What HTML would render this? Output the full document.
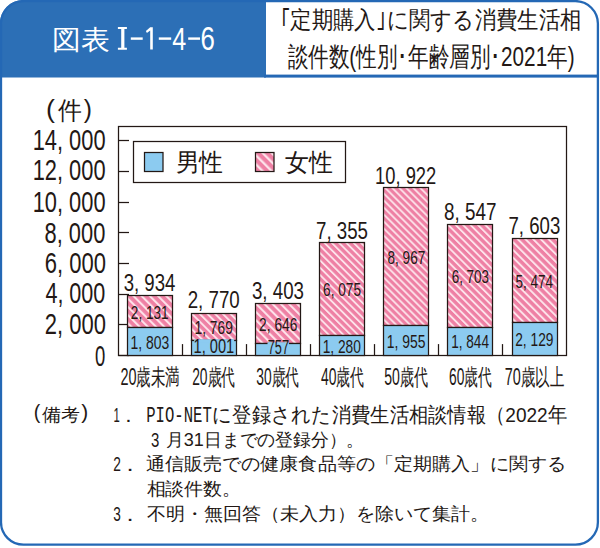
<!DOCTYPE html>
<html><head><meta charset="utf-8"><style>
html,body{margin:0;padding:0;background:#ffffff;width:600px;height:548px;overflow:hidden}
svg text{font-family:"Liberation Sans",sans-serif}
</style></head><body><svg width="600" height="548" viewBox="0 0 600 548" style="display:block"><defs><pattern id="st0" patternUnits="userSpaceOnUse" width="5.798" height="10" patternTransform="rotate(-45)"><rect width="5.798" height="10" fill="#ee80a4"/><rect x="0" y="0" width="2.087" height="10" fill="#fde3ea"/></pattern><pattern id="st1" patternUnits="userSpaceOnUse" width="5.445" height="10" patternTransform="rotate(-45)"><rect width="5.445" height="10" fill="#ee80a4"/><rect x="0" y="0" width="1.960" height="10" fill="#fde3ea"/></pattern><pattern id="st2" patternUnits="userSpaceOnUse" width="5.798" height="10" patternTransform="rotate(-45)"><rect width="5.798" height="10" fill="#ee80a4"/><rect x="0" y="0" width="2.087" height="10" fill="#fde3ea"/></pattern><pattern id="st3" patternUnits="userSpaceOnUse" width="5.162" height="10" patternTransform="rotate(-45)"><rect width="5.162" height="10" fill="#ee80a4"/><rect x="0" y="0" width="1.858" height="10" fill="#fde3ea"/></pattern><pattern id="st4" patternUnits="userSpaceOnUse" width="4.950" height="10" patternTransform="rotate(-45)"><rect width="4.950" height="10" fill="#ee80a4"/><rect x="0" y="0" width="1.782" height="10" fill="#fde3ea"/></pattern><pattern id="st5" patternUnits="userSpaceOnUse" width="5.233" height="10" patternTransform="rotate(-45)"><rect width="5.233" height="10" fill="#ee80a4"/><rect x="0" y="0" width="1.884" height="10" fill="#fde3ea"/></pattern><pattern id="st6" patternUnits="userSpaceOnUse" width="5.445" height="10" patternTransform="rotate(-45)"><rect width="5.445" height="10" fill="#ee80a4"/><rect x="0" y="0" width="1.960" height="10" fill="#fde3ea"/></pattern><pattern id="st7" patternUnits="userSpaceOnUse" width="6.364" height="10" patternTransform="rotate(-45)"><rect width="6.364" height="10" fill="#ee80a4"/><rect x="0" y="0" width="2.291" height="10" fill="#fde3ea"/></pattern></defs><path d="M0,77.6 V23 A23,23 0 0 1 23,0 H266 V77.6 Z" fill="#2c6fb6"/>
<rect x="1" y="1.1" width="596.9" height="543.6" rx="22.5" ry="22.5" fill="none" stroke="#2468b5" stroke-width="2.3"/>
<rect x="264" y="74.6" width="334" height="3" fill="#2468b5"/>
<rect x="130.8" y="37.4" width="11.90" height="2.4" fill="#ffffff"/>
<rect x="158.8" y="37.4" width="12.40" height="2.4" fill="#ffffff"/>
<rect x="188.2" y="37.4" width="11.80" height="2.4" fill="#ffffff"/>
<path d="M117.9,27.1 H126.9 V29.1 H124.4 V47.7 H126.9 V49.8 H117.9 V47.7 H121.2 V29.1 H117.9 Z" fill="#ffffff"/>
<path d="M150.2,27.3 H152.8 V49.5 H150.2 V30.6 L146.9,32.9 L145.9,31.0 Z" fill="#ffffff"/>
<rect x="118.5" y="126.5" width="448.00" height="229.00" fill="none" stroke="#231815" stroke-width="1.25"/>
<line x1="118.5" y1="355.50" x2="129.0" y2="355.50" stroke="#231815" stroke-width="1.25"/>
<line x1="118.5" y1="324.50" x2="129.0" y2="324.50" stroke="#231815" stroke-width="1.25"/>
<line x1="118.5" y1="294.50" x2="129.0" y2="294.50" stroke="#231815" stroke-width="1.25"/>
<line x1="118.5" y1="263.50" x2="129.0" y2="263.50" stroke="#231815" stroke-width="1.25"/>
<line x1="118.5" y1="232.50" x2="129.0" y2="232.50" stroke="#231815" stroke-width="1.25"/>
<line x1="118.5" y1="202.50" x2="129.0" y2="202.50" stroke="#231815" stroke-width="1.25"/>
<line x1="118.5" y1="171.50" x2="129.0" y2="171.50" stroke="#231815" stroke-width="1.25"/>
<line x1="118.5" y1="140.50" x2="129.0" y2="140.50" stroke="#231815" stroke-width="1.25"/>
<rect x="127.50" y="295.50" width="45.00" height="32.00" fill="url(#st0)" stroke="#231815" stroke-width="1.25"/>
<rect x="127.50" y="327.50" width="45.00" height="28.00" fill="#8ccbf0" stroke="#231815" stroke-width="1.25"/>
<rect x="191.50" y="313.50" width="45.00" height="27.00" fill="url(#st1)" stroke="#231815" stroke-width="1.25"/>
<rect x="191.50" y="340.50" width="45.00" height="15.00" fill="#8ccbf0" stroke="#231815" stroke-width="1.25"/>
<rect x="194.13" y="339.30" width="40.00" height="3" fill="#8ccbf0"/>
<line x1="182.50" y1="355.5" x2="182.50" y2="344.1" stroke="#231815" stroke-width="1.25"/>
<rect x="255.50" y="303.50" width="45.00" height="40.00" fill="url(#st2)" stroke="#231815" stroke-width="1.25"/>
<rect x="255.50" y="343.50" width="45.00" height="12.00" fill="#8ccbf0" stroke="#231815" stroke-width="1.25"/>
<rect x="267.51" y="342.30" width="21.40" height="3" fill="#8ccbf0"/>
<line x1="246.50" y1="355.5" x2="246.50" y2="344.1" stroke="#231815" stroke-width="1.25"/>
<rect x="319.50" y="242.50" width="45.00" height="93.00" fill="url(#st3)" stroke="#231815" stroke-width="1.25"/>
<rect x="319.50" y="335.50" width="45.00" height="20.00" fill="#8ccbf0" stroke="#231815" stroke-width="1.25"/>
<line x1="310.50" y1="355.5" x2="310.50" y2="344.1" stroke="#231815" stroke-width="1.25"/>
<rect x="383.50" y="187.50" width="45.00" height="138.00" fill="url(#st4)" stroke="#231815" stroke-width="1.25"/>
<rect x="383.50" y="325.50" width="45.00" height="30.00" fill="#8ccbf0" stroke="#231815" stroke-width="1.25"/>
<line x1="374.50" y1="355.5" x2="374.50" y2="344.1" stroke="#231815" stroke-width="1.25"/>
<rect x="447.50" y="224.50" width="45.00" height="103.00" fill="url(#st5)" stroke="#231815" stroke-width="1.25"/>
<rect x="447.50" y="327.50" width="45.00" height="28.00" fill="#8ccbf0" stroke="#231815" stroke-width="1.25"/>
<line x1="438.50" y1="355.5" x2="438.50" y2="344.1" stroke="#231815" stroke-width="1.25"/>
<rect x="512.50" y="238.50" width="45.00" height="84.00" fill="url(#st6)" stroke="#231815" stroke-width="1.25"/>
<rect x="512.50" y="322.50" width="45.00" height="33.00" fill="#8ccbf0" stroke="#231815" stroke-width="1.25"/>
<line x1="502.50" y1="355.5" x2="502.50" y2="344.1" stroke="#231815" stroke-width="1.25"/>
<rect x="133.5" y="141.5" width="212" height="41" fill="#ffffff" stroke="#231815" stroke-width="1.25"/>
<rect x="144.5" y="152.5" width="18.5" height="19" fill="#8ccbf0" stroke="#231815" stroke-width="1.25"/>
<rect x="255.5" y="152.5" width="18.5" height="19" fill="url(#st7)" stroke="#231815" stroke-width="1.25"/>
<text x="52.268" y="49.224" font-size="26.874" textLength="57.727" lengthAdjust="spacingAndGlyphs" style="font-family:'Liberation Sans',sans-serif" fill="#ffffff">図表</text>
<text x="172.374" y="50.000" font-size="31.970" textLength="13.941" lengthAdjust="spacingAndGlyphs" style="font-family:'Liberation Sans',sans-serif" fill="#ffffff">4</text>
<text x="200.453" y="49.500" font-size="32.696" textLength="14.339" lengthAdjust="spacingAndGlyphs" style="font-family:'Liberation Sans',sans-serif" fill="#ffffff">6</text>
<text x="279.675" y="28.358" font-size="24.300" textLength="301.870" lengthAdjust="spacingAndGlyphs" style="font-family:'Liberation Sans',sans-serif" fill="#231815">｢定期購入｣に関する消費生活相</text>
<text x="287.534" y="66.142" font-size="27.185" textLength="287.118" lengthAdjust="spacingAndGlyphs" style="font-family:'Liberation Sans',sans-serif" fill="#231815">談件数(性別･年齢層別･2021年)</text>
<text x="46.124" y="117.642" font-size="25.340" textLength="8.964" lengthAdjust="spacingAndGlyphs" style="font-family:'Liberation Sans',sans-serif" fill="#231815">(</text>
<text x="57.588" y="118.996" font-size="24.843" textLength="23.835" lengthAdjust="spacingAndGlyphs" style="font-family:'Liberation Sans',sans-serif" fill="#231815">件</text>
<text x="83.798" y="117.642" font-size="25.340" textLength="8.184" lengthAdjust="spacingAndGlyphs" style="font-family:'Liberation Sans',sans-serif" fill="#231815">)</text>
<text x="95.123" y="365.511" font-size="29.270" textLength="10.269" lengthAdjust="spacingAndGlyphs" style="font-family:'Liberation Sans',sans-serif" fill="#231815">0</text>
<text x="44.774" y="334.032" font-size="29.270" textLength="61.134" lengthAdjust="spacingAndGlyphs" style="font-family:'Liberation Sans',sans-serif" fill="#231815">2, 000</text>
<text x="45.397" y="303.489" font-size="29.270" textLength="59.977" lengthAdjust="spacingAndGlyphs" style="font-family:'Liberation Sans',sans-serif" fill="#231815">4, 000</text>
<text x="44.734" y="273.000" font-size="29.270" textLength="61.173" lengthAdjust="spacingAndGlyphs" style="font-family:'Liberation Sans',sans-serif" fill="#231815">6, 000</text>
<text x="44.526" y="242.511" font-size="29.270" textLength="60.812" lengthAdjust="spacingAndGlyphs" style="font-family:'Liberation Sans',sans-serif" fill="#231815">8, 000</text>
<text x="32.677" y="211.968" font-size="29.270" textLength="72.856" lengthAdjust="spacingAndGlyphs" style="font-family:'Liberation Sans',sans-serif" fill="#231815">10, 000</text>
<text x="32.677" y="180.489" font-size="29.270" textLength="72.856" lengthAdjust="spacingAndGlyphs" style="font-family:'Liberation Sans',sans-serif" fill="#231815">12, 000</text>
<text x="32.677" y="149.990" font-size="29.270" textLength="72.856" lengthAdjust="spacingAndGlyphs" style="font-family:'Liberation Sans',sans-serif" fill="#231815">14, 000</text>
<text x="175.600" y="170.509" font-size="25.065" textLength="47.713" lengthAdjust="spacingAndGlyphs" style="font-family:'Liberation Sans',sans-serif" fill="#231815">男性</text>
<text x="285.465" y="170.509" font-size="25.065" textLength="47.753" lengthAdjust="spacingAndGlyphs" style="font-family:'Liberation Sans',sans-serif" fill="#231815">女性</text>
<text x="123.669" y="291.066" font-size="23.611" textLength="51.641" lengthAdjust="spacingAndGlyphs" style="font-family:'Liberation Sans',sans-serif" fill="#231815">3, 934</text>
<text x="130.861" y="318.554" font-size="18.802" textLength="37.701" lengthAdjust="spacingAndGlyphs" style="font-family:'Liberation Sans',sans-serif" fill="#231815">2, 131</text>
<text x="130.449" y="348.544" font-size="18.802" textLength="38.685" lengthAdjust="spacingAndGlyphs" style="font-family:'Liberation Sans',sans-serif" fill="#231815">1, 803</text>
<text x="120.419" y="385.285" font-size="23.072" textLength="59.334" lengthAdjust="spacingAndGlyphs" style="font-family:'Liberation Sans',sans-serif" fill="#231815">20歳未満</text>
<text x="187.701" y="308.403" font-size="23.611" textLength="52.072" lengthAdjust="spacingAndGlyphs" style="font-family:'Liberation Sans',sans-serif" fill="#231815">2, 770</text>
<text x="194.525" y="333.994" font-size="18.802" textLength="38.289" lengthAdjust="spacingAndGlyphs" style="font-family:'Liberation Sans',sans-serif" fill="#231815">1, 769</text>
<text x="193.604" y="353.000" font-size="19.508" textLength="40.664" lengthAdjust="spacingAndGlyphs" style="font-family:'Liberation Sans',sans-serif" fill="#231815">1, 001</text>
<text x="192.158" y="385.285" font-size="23.072" textLength="42.969" lengthAdjust="spacingAndGlyphs" style="font-family:'Liberation Sans',sans-serif" fill="#231815">20歳代</text>
<text x="251.918" y="298.820" font-size="23.611" textLength="52.052" lengthAdjust="spacingAndGlyphs" style="font-family:'Liberation Sans',sans-serif" fill="#231815">3, 403</text>
<text x="259.102" y="331.065" font-size="18.802" textLength="38.234" lengthAdjust="spacingAndGlyphs" style="font-family:'Liberation Sans',sans-serif" fill="#231815">2, 646</text>
<text x="267.746" y="354.000" font-size="19.509" textLength="21.310" lengthAdjust="spacingAndGlyphs" style="font-family:'Liberation Sans',sans-serif" fill="#231815">757</text>
<text x="256.335" y="385.285" font-size="23.072" textLength="42.836" lengthAdjust="spacingAndGlyphs" style="font-family:'Liberation Sans',sans-serif" fill="#231815">30歳代</text>
<text x="315.990" y="238.504" font-size="23.611" textLength="51.970" lengthAdjust="spacingAndGlyphs" style="font-family:'Liberation Sans',sans-serif" fill="#231815">7, 355</text>
<text x="323.080" y="296.398" font-size="18.802" textLength="37.991" lengthAdjust="spacingAndGlyphs" style="font-family:'Liberation Sans',sans-serif" fill="#231815">6, 075</text>
<text x="322.723" y="352.614" font-size="18.802" textLength="38.164" lengthAdjust="spacingAndGlyphs" style="font-family:'Liberation Sans',sans-serif" fill="#231815">1, 280</text>
<text x="320.944" y="385.285" font-size="23.072" textLength="43.220" lengthAdjust="spacingAndGlyphs" style="font-family:'Liberation Sans',sans-serif" fill="#231815">40歳代</text>
<text x="375.061" y="183.737" font-size="23.611" textLength="61.214" lengthAdjust="spacingAndGlyphs" style="font-family:'Liberation Sans',sans-serif" fill="#231815">10, 922</text>
<text x="387.426" y="263.579" font-size="18.802" textLength="37.846" lengthAdjust="spacingAndGlyphs" style="font-family:'Liberation Sans',sans-serif" fill="#231815">8, 967</text>
<text x="386.869" y="347.687" font-size="18.802" textLength="38.607" lengthAdjust="spacingAndGlyphs" style="font-family:'Liberation Sans',sans-serif" fill="#231815">1, 955</text>
<text x="384.279" y="385.285" font-size="23.072" textLength="43.699" lengthAdjust="spacingAndGlyphs" style="font-family:'Liberation Sans',sans-serif" fill="#231815">50歳代</text>
<text x="444.070" y="220.018" font-size="23.611" textLength="52.350" lengthAdjust="spacingAndGlyphs" style="font-family:'Liberation Sans',sans-serif" fill="#231815">8, 547</text>
<text x="451.635" y="283.010" font-size="18.802" textLength="37.501" lengthAdjust="spacingAndGlyphs" style="font-family:'Liberation Sans',sans-serif" fill="#231815">6, 703</text>
<text x="451.157" y="348.030" font-size="18.802" textLength="37.779" lengthAdjust="spacingAndGlyphs" style="font-family:'Liberation Sans',sans-serif" fill="#231815">1, 844</text>
<text x="448.974" y="385.285" font-size="23.072" textLength="42.910" lengthAdjust="spacingAndGlyphs" style="font-family:'Liberation Sans',sans-serif" fill="#231815">60歳代</text>
<text x="508.518" y="234.470" font-size="23.611" textLength="51.739" lengthAdjust="spacingAndGlyphs" style="font-family:'Liberation Sans',sans-serif" fill="#231815">7, 603</text>
<text x="515.605" y="288.258" font-size="18.802" textLength="37.532" lengthAdjust="spacingAndGlyphs" style="font-family:'Liberation Sans',sans-serif" fill="#231815">5, 474</text>
<text x="515.240" y="346.034" font-size="18.802" textLength="38.164" lengthAdjust="spacingAndGlyphs" style="font-family:'Liberation Sans',sans-serif" fill="#231815">2, 129</text>
<text x="504.775" y="385.285" font-size="23.072" textLength="59.247" lengthAdjust="spacingAndGlyphs" style="font-family:'Liberation Sans',sans-serif" fill="#231815">70歳以上</text>
<text x="33.732" y="418.932" font-size="20.993" textLength="6.519" lengthAdjust="spacingAndGlyphs" style="font-family:'Liberation Sans',sans-serif" fill="#231815">(</text>
<text x="42.208" y="420.852" font-size="18.148" textLength="37.890" lengthAdjust="spacingAndGlyphs" style="font-family:'Liberation Sans',sans-serif" fill="#231815">備考</text>
<text x="81.126" y="418.932" font-size="20.993" textLength="6.930" lengthAdjust="spacingAndGlyphs" style="font-family:'Liberation Sans',sans-serif" fill="#231815">)</text>
<text x="113.461" y="422.015" font-size="20.203" textLength="6.298" lengthAdjust="spacingAndGlyphs" style="font-family:'Liberation Sans',sans-serif" fill="#231815">1</text>
<text x="125.190" y="422.015" font-size="20.203" textLength="6.329" lengthAdjust="spacingAndGlyphs" style="font-family:'Liberation Sans',sans-serif" fill="#231815">.</text>
<text x="146.263" y="422.028" font-size="21.869" textLength="65.559" lengthAdjust="spacingAndGlyphs" style="font-family:'Liberation Mono',monospace" fill="#231815">PIO-NET</text>
<text x="212.151" y="421.926" font-size="20.738" textLength="354.835" lengthAdjust="spacingAndGlyphs" style="font-family:'Liberation Sans',sans-serif" fill="#231815">に登録された消費生活相談情報（2022年</text>
<text x="151.012" y="446.755" font-size="20.509" textLength="8.307" lengthAdjust="spacingAndGlyphs" style="font-family:'Liberation Sans',sans-serif" fill="#231815">3</text>
<text x="165.943" y="446.115" font-size="18.274" textLength="198.350" lengthAdjust="spacingAndGlyphs" style="font-family:'Liberation Sans',sans-serif" fill="#231815">月31日までの登録分）。</text>
<text x="113.128" y="471.040" font-size="20.893" textLength="7.668" lengthAdjust="spacingAndGlyphs" style="font-family:'Liberation Sans',sans-serif" fill="#231815">2</text>
<text x="126.422" y="471.040" font-size="20.893" textLength="7.177" lengthAdjust="spacingAndGlyphs" style="font-family:'Liberation Sans',sans-serif" fill="#231815">.</text>
<text x="145.530" y="470.275" font-size="17.921" textLength="420.537" lengthAdjust="spacingAndGlyphs" style="font-family:'Liberation Sans',sans-serif" fill="#231815">通信販売での健康食品等の「定期購入」に関する</text>
<text x="146.549" y="495.249" font-size="18.249" textLength="94.697" lengthAdjust="spacingAndGlyphs" style="font-family:'Liberation Sans',sans-serif" fill="#231815">相談件数。</text>
<text x="113.167" y="520.960" font-size="20.893" textLength="7.586" lengthAdjust="spacingAndGlyphs" style="font-family:'Liberation Sans',sans-serif" fill="#231815">3</text>
<text x="126.422" y="520.960" font-size="20.893" textLength="7.177" lengthAdjust="spacingAndGlyphs" style="font-family:'Liberation Sans',sans-serif" fill="#231815">.</text>
<text x="146.547" y="519.758" font-size="17.716" textLength="342.759" lengthAdjust="spacingAndGlyphs" style="font-family:'Liberation Sans',sans-serif" fill="#231815">不明・無回答（未入力）を除いて集計。</text></svg></body></html>
